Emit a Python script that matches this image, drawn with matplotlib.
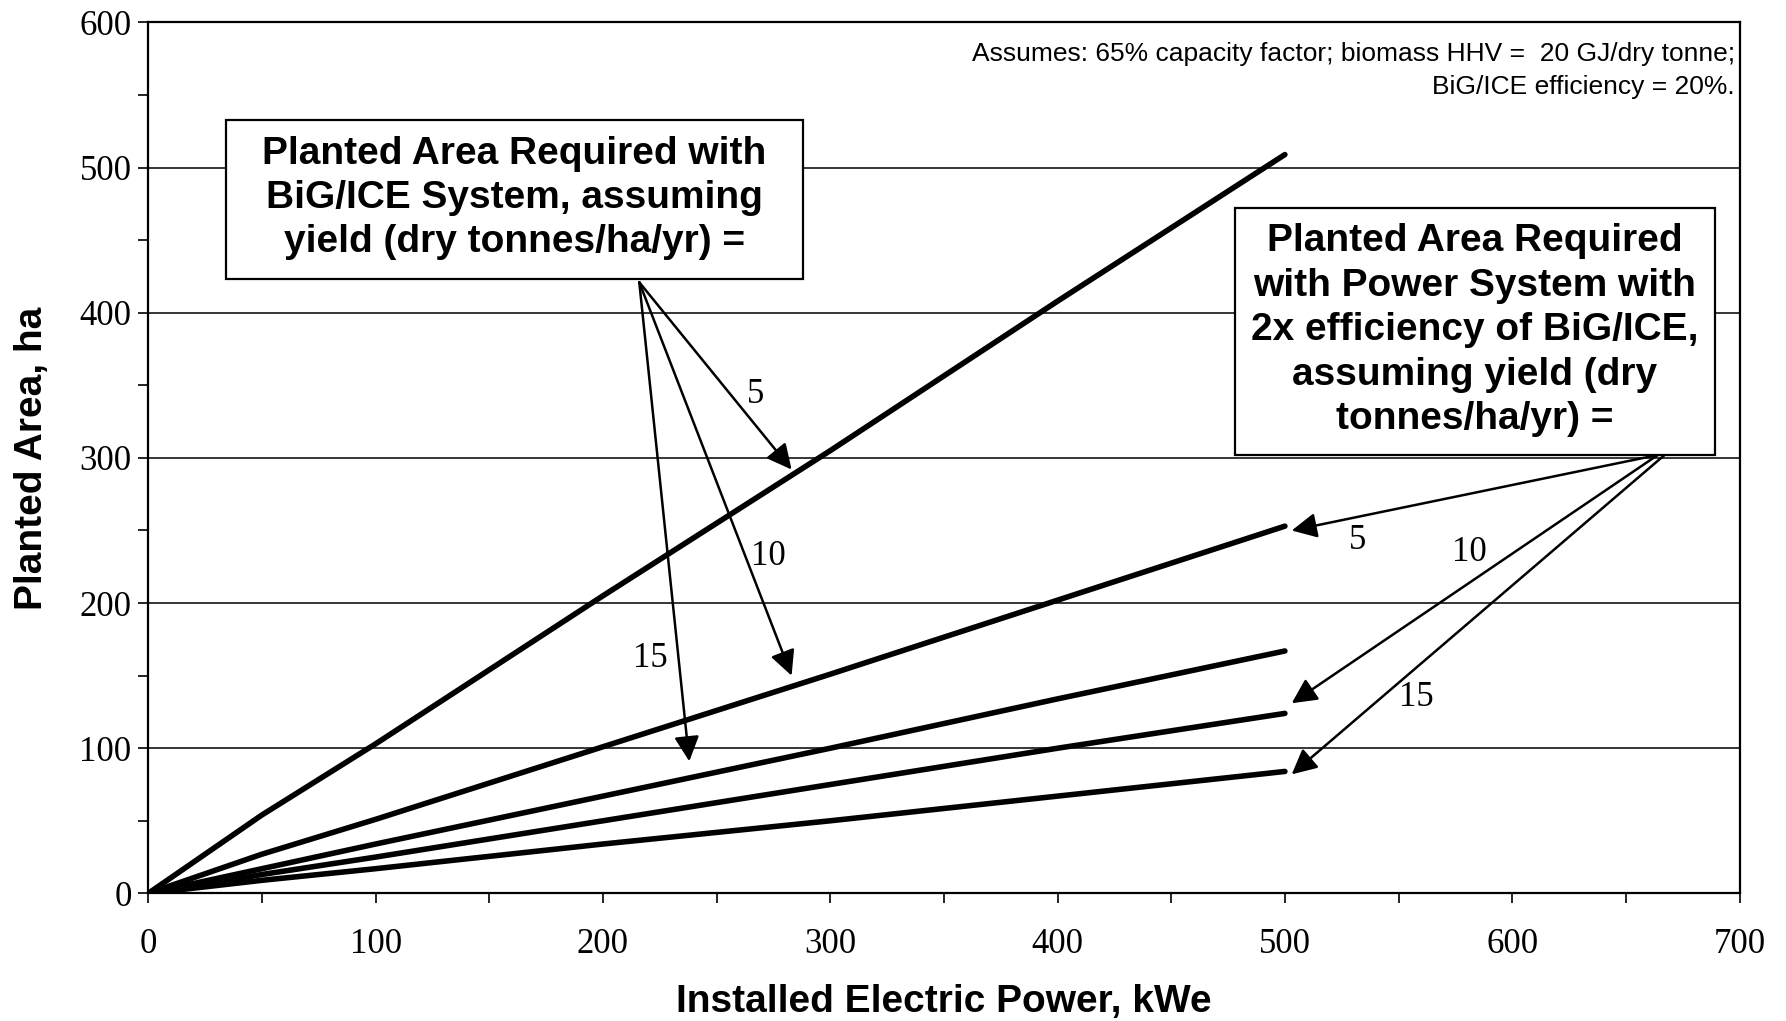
import matplotlib.pyplot as plt
from matplotlib.patches import Rectangle
import numpy as np

# installed power (kWe) and planted area (ha)
power = [0, 50, 100, 200, 300, 400, 500]
big_ice_5 = [0, 54, 103, 205, 305, 408, 509]
big_ice_10 = [0, 27, 51, 101, 151, 202, 253]
big_ice_15 = [0, 17, 34, 67, 100, 134, 167]
eff2x_10 = [0, 13, 25, 50, 75, 100, 124]
eff2x_15 = [0, 9, 17, 34, 50, 67, 84]

left_box = 'Planted Area Required with\nBiG/ICE System, assuming\nyield (dry tonnes/ha/yr) ='
right_box = ('Planted Area Required\nwith Power System with\n2x efficiency of BiG/ICE,\n'
             'assuming yield (dry\ntonnes/ha/yr) =')
note = 'Assumes: 65% capacity factor; biomass HHV =  20 GJ/dry tonne;\nBiG/ICE efficiency = 20%.'

# arrow labels: (text, tail, tip, label position)
left_arrows = [('5', (216, 421), (283, 292), (267, 344)),
               ('10', (216, 421), (283, 150), (273, 232)),
               ('15', (216, 421), (238, 91), (221, 162))]
right_arrows = [('5', (667, 303), (503, 250), (532, 243)),
                ('10', (664, 302), (503, 131), (581, 235)),
                ('15', (667, 302), (503, 82), (558, 135))]

sans = 'Liberation Sans'
serif = 'Liberation Serif'

fig = plt.figure(figsize=(17.86, 10.21), dpi=100)
ax = fig.add_axes([0.083, 0.125, 0.891, 0.853])

for y in [big_ice_5, big_ice_10, big_ice_15, eff2x_10, eff2x_15]:
    ax.plot(power, y, color='black', lw=4.0, solid_capstyle='round', zorder=3)

ax.set_xlim(0, 700)
ax.set_ylim(0, 600)
ax.set_xticks(np.arange(0, 701, 100))
ax.set_yticks(np.arange(0, 601, 100))
ax.set_xticks(np.arange(0, 701, 50), minor=True)
ax.set_yticks(np.arange(0, 601, 50), minor=True)
ax.tick_params(which='both', direction='out', color='black', width=1.2, length=7)
ax.tick_params(axis='x', pad=18)
ax.tick_params(axis='y', pad=5)
for lab in ax.get_xticklabels() + ax.get_yticklabels():
    lab.set_fontfamily(serif)
    lab.set_fontsize(25)
ax.grid(axis='y', which='major', color='black', lw=1.1, zorder=0)
for s in ax.spines.values():
    s.set_linewidth(1.6)

ax.set_xlabel('Installed Electric Power, kWe', fontfamily=sans, fontweight='bold',
              fontsize=28, va='center')
ax.xaxis.set_label_coords(0.5, -0.125)
ax.set_ylabel('Planted Area, ha', fontfamily=sans, fontweight='bold', fontsize=28, va='center')
ax.yaxis.set_label_coords(-0.073, 0.5)

# text boxes
ax.add_patch(Rectangle((34, 423), 254, 110, facecolor='white', edgecolor='black', lw=1.6,
                       zorder=5))
ax.text(161, 479, left_box, ha='center', va='center', fontfamily=sans, fontweight='bold',
        fontsize=28, linespacing=1.3, zorder=6)
ax.add_patch(Rectangle((478, 302), 211, 170, facecolor='white', edgecolor='black', lw=1.6,
                       zorder=5))
ax.text(583.5, 388, right_box, ha='center', va='center', fontfamily=sans, fontweight='bold',
        fontsize=28, linespacing=1.3, zorder=6)
ax.text(698, 567, note, ha='right', va='center', fontfamily=sans, fontsize=19,
        linespacing=1.5, zorder=5)

for text, tail, tip, pos in left_arrows + right_arrows:
    ax.annotate('', xy=tip, xytext=tail,
                arrowprops=dict(arrowstyle='-|>', color='black', lw=1.8, mutation_scale=38,
                                shrinkA=0, shrinkB=0), zorder=4)
    ax.text(pos[0], pos[1], text, ha='center', va='center', fontfamily=serif, fontsize=25,
            zorder=4)

fig.savefig('out.png', dpi=100)
